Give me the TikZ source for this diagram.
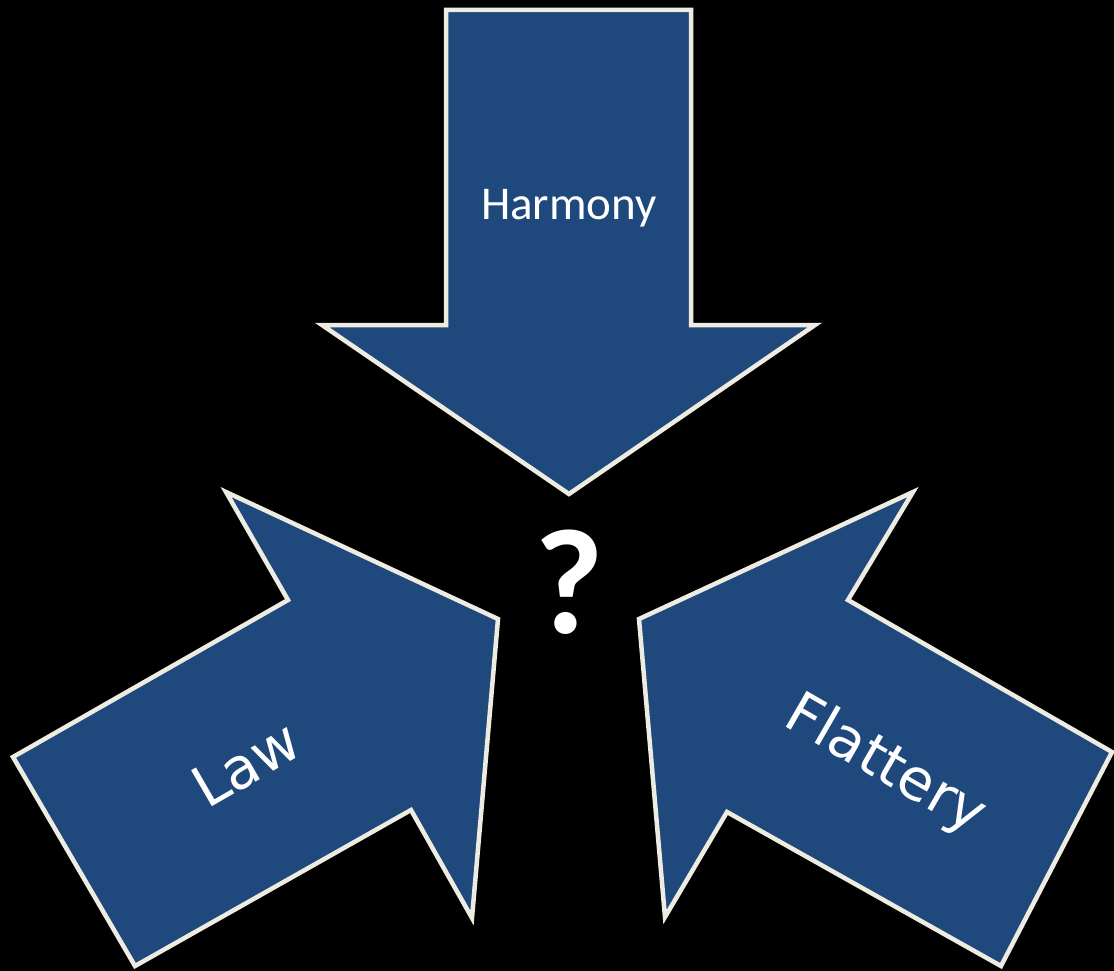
\documentclass[tikz,border=0pt]{standalone}
\usepackage{fontspec}
\setmainfont{Carlito}
\newfontfamily\dejavu{DejaVu Sans}
\definecolor{arrowblue}{HTML}{1F497D}
\definecolor{arrowedge}{HTML}{EEECE1}
\begin{document}
\begin{tikzpicture}[x=1pt,y=-1pt,
  bigarrow/.style={fill=arrowblue,draw=arrowedge,line width=4.5pt,line join=miter},
  lbl/.style={text=white,inner sep=0pt,anchor=center}]
\fill[black] (0,0) rectangle (1114,971);
\useasboundingbox (0,0) rectangle (1114,971);
% top arrow
\draw[bigarrow] (446,10) -- (691,10) -- (691,325) -- (815,325) -- (569,494) -- (322,325) -- (446,325) -- cycle;
% left arrow
\draw[bigarrow] (13,757) -- (288,600) -- (226,492) -- (498,619) -- (472,918) -- (411,810) -- (135,966) -- cycle;
% right arrow
\draw[bigarrow] (1112,752) -- (848,600) -- (913,492) -- (639,619) -- (665,917) -- (727,812) -- (1001,966) -- cycle;
\node[lbl,font=\fontsize{47}{50}\selectfont] (harmony) at (569,208) {Harmony};
\node[lbl,font=\dejavu\fontsize{57}{62}\selectfont,rotate=30] (law) at (246,764) {Law};
\node[lbl,font=\dejavu\fontsize{57}{62}\selectfont,rotate=-30] (flattery) at (885,766) {Flattery};
\node[lbl,font=\bfseries\fontsize{150}{160}\selectfont] (q) at (569,582) {?};
\end{tikzpicture}
\end{document}
